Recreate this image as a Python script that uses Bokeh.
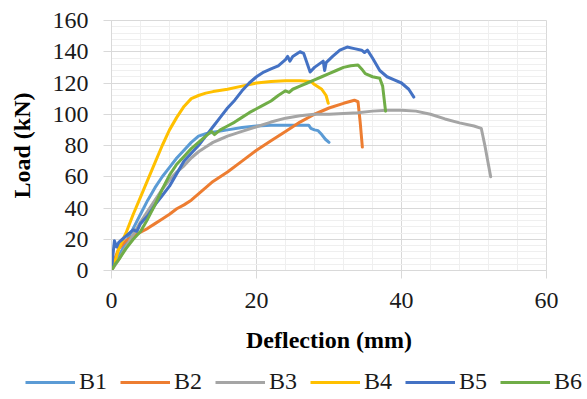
from bokeh.plotting import figure
from bokeh.models import Range1d, SingleIntervalTicker, Legend, LegendItem
from bokeh.embed import file_html
from bokeh.resources import INLINE

# ---- data (deflection mm, load kN) ----
b1_x = [0, 1, 2, 3, 4, 5, 6, 7, 8, 9, 10, 11, 12, 13, 14, 16, 18, 20, 22, 24, 26, 27.2, 27.5, 28, 28.5, 29, 29.5, 30]
b1_y = [0, 9, 18, 27, 36, 45, 53, 60, 66, 72, 77, 82, 86, 87.5, 88.5, 90, 91.5, 92.5, 93, 93, 93, 93, 91, 90, 89.5, 87, 84, 82]

b2_x = [0, 0.5, 1, 2, 3, 4, 5, 6, 7, 8, 9, 10, 11, 12, 14, 16, 18, 20, 22, 24, 26, 28, 30, 32, 33.5, 34, 34.3, 34.6]
b2_y = [0, 8, 14, 19, 22, 24.5, 27, 30, 33, 36, 39.5, 42, 45, 49, 57, 63, 70, 77, 83, 89, 95, 100, 104, 107, 109, 108, 95, 79]

b3_x = [0, 1, 2, 3, 4, 5, 6, 7, 8, 9, 10, 11, 12, 13, 14, 15, 16, 18, 20, 22, 24, 26, 28, 30, 32, 34, 36, 38, 40, 42, 44, 46, 48, 50, 51, 51.5, 52.3]
b3_y = [0, 7, 15, 23, 31, 38, 45, 52, 58, 63, 67, 72, 76, 79, 82, 84, 86, 89, 92, 95, 97.5, 99, 100, 100, 100.5, 101, 102, 102.5, 102.5, 102, 100, 97, 94.5, 92.5, 91, 80, 60]

b4_x = [0, 0.5, 1, 2, 3, 4, 5, 6, 7, 8, 9, 10, 11, 12, 13, 14, 16, 18, 20, 22, 24, 26, 27.5, 28, 29, 29.6, 29.9]
b4_y = [0, 6, 14, 24, 36, 47, 58, 69, 80, 90, 98, 105, 110, 112, 113.5, 114.5, 116, 118, 120, 121, 121.5, 121.5, 121, 119, 116, 112, 107]

b5_x = [0, 0.2, 0.4, 0.7, 1, 1.5, 2, 2.5, 3, 3.5, 4, 5, 6, 7, 8, 9, 10, 11, 12, 13, 14, 15, 16, 17, 18, 19, 20, 21, 22, 23, 24, 24.3, 24.6, 25, 26, 26.5, 27.4, 28, 29.2, 29.4, 29.6, 30.5, 31.5, 32.5, 33.5, 34.5, 34.9, 35.3, 36, 37, 38, 39, 40, 41, 41.7]
b5_y = [0, 10, 19, 15, 18, 20, 22, 24, 26, 25, 30, 35, 42, 48, 54, 62, 70, 75, 80, 86, 92, 98, 104, 109, 115, 120, 124, 127, 129, 131, 135, 137, 134, 137, 140, 139, 127, 130, 134, 128, 133, 137, 141, 143, 142, 141, 139.5, 141, 136, 128, 124, 122, 120, 116, 111]

b6_x = [0, 0.5, 1, 2, 3, 4, 5, 6, 7, 8, 9, 10, 11, 12, 13, 13.8, 14.2, 15, 16, 17, 18, 19, 20, 21, 22, 23, 24, 24.5, 25, 26, 27, 28, 29, 30, 31, 32, 33, 34, 34.5, 35, 36, 37, 37.4, 37.8]
b6_y = [0, 4, 7, 14, 20, 25, 33, 42, 52, 61, 68, 73, 78, 82, 86, 89, 87, 90, 92.5, 95, 98, 101, 103.5, 106, 108.5, 112, 115, 114, 116, 118, 120, 122, 124, 126, 128, 130, 131, 131.5, 129, 126, 124, 123, 118, 102]

names = ["B1", "B2", "B3", "B4", "B5", "B6"]
colors = ["#5B9BD5", "#ED7D31", "#A5A5A5", "#FFC000", "#4472C4", "#70AD47"]
series = [(b1_x, b1_y), (b2_x, b2_y), (b3_x, b3_y), (b4_x, b4_y), (b5_x, b5_y), (b6_x, b6_y)]

FONT = "Liberation Serif"

# ---- main chart ----
p = figure(frame_width=435, frame_height=250,
           min_border_left=111, min_border_right=41, min_border_top=20, min_border_bottom=86,
           x_range=Range1d(0, 60), y_range=Range1d(0, 160),
           output_backend="svg", toolbar_location=None)
p.outline_line_color = "#d9d9d9"
p.background_fill_color = "white"
p.border_fill_color = "white"

p.xaxis.ticker = SingleIntervalTicker(interval=20, num_minor_ticks=5)
p.yaxis.ticker = SingleIntervalTicker(interval=20, num_minor_ticks=5)

p.xgrid.grid_line_color = "#d9d9d9"
p.ygrid.grid_line_color = "#d9d9d9"
p.xgrid.minor_grid_line_color = "#efefef"
p.ygrid.minor_grid_line_color = "#efefef"

for ax in (p.xaxis, p.yaxis):
    ax.axis_line_color = "#d9d9d9"
    ax.major_tick_line_color = "#d9d9d9"
    ax.major_tick_out = 8
    ax.major_tick_in = 0
    ax.minor_tick_line_color = None
    ax.major_label_text_font = FONT
    ax.major_label_text_font_size = "24px"
    ax.major_label_text_color = "#1a1a1a"
    ax.axis_label_text_font = FONT
    ax.axis_label_text_font_size = "24px"
    ax.axis_label_text_font_style = "bold"
    ax.axis_label_text_color = "black"

p.xaxis.axis_label = "Deflection (mm)"
p.yaxis.axis_label = "Load (kN)"
p.xaxis.major_label_standoff = 14
p.xaxis.axis_label_standoff = 16
p.yaxis.major_label_standoff = 15
p.yaxis.axis_label_standoff = 15

for col, (xs, ys) in zip(colors, series):
    p.line(xs, ys, line_color=col, line_width=3, line_join="round", line_cap="round")

# ---- legend strip (separate root, its frame spans the full width) ----
lg = figure(width=587, height=41, min_border=0,
            x_axis_location=None, y_axis_location=None,
            x_range=Range1d(-2, -1), y_range=Range1d(-2, -1),
            output_backend="svg", toolbar_location=None)
lg.grid.visible = False
lg.outline_line_color = None
lg.border_fill_color = "white"
lg.background_fill_color = "white"

items = []
for name, col, (xs, ys) in zip(names, colors, series):
    r = lg.line(xs, ys, line_color=col, line_width=3)
    items.append(LegendItem(label=name, renderers=[r]))

legend = Legend(items=items, orientation="horizontal", location=(25, 2),
                glyph_width=50, glyph_height=20, label_standoff=4, spacing=13,
                padding=0, margin=0, border_line_alpha=0, background_fill_alpha=0,
                label_text_font=FONT, label_text_font_size="24px", label_text_color="#1a1a1a")
lg.add_layout(legend, "center")

open("out.html", "w").write(file_html([p, lg], INLINE))
